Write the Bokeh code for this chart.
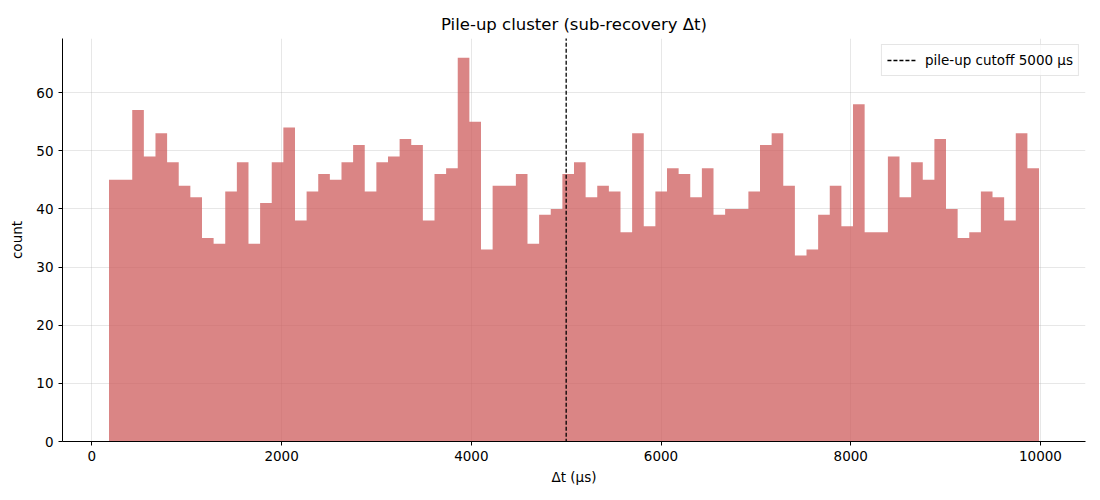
import numpy as np
from bokeh.plotting import figure
from bokeh.models import Range1d, FixedTicker, Legend, LegendItem
from bokeh.embed import file_html
from bokeh.resources import INLINE

counts = [45, 45, 57, 49, 53, 48, 44, 42, 35, 34,
          43, 48, 34, 41, 48, 54, 38, 43, 46, 45,
          48, 51, 43, 48, 49, 52, 51, 38, 46, 47,
          66, 55, 33, 44, 44, 46, 34, 39, 40, 46,
          48, 42, 44, 43, 36, 53, 37, 43, 47, 46,
          42, 47, 39, 40, 40, 43, 51, 53, 44, 32,
          33, 39, 44, 37, 58, 36, 36, 49, 42, 48,
          45, 52, 40, 35, 36, 43, 42, 38, 53, 47]
bin_start = 180.0
bin_end = 9985.0
cutoff = 5000
x_ticks = [0, 2000, 4000, 6000, 8000, 10000]
y_ticks = [0, 10, 20, 30, 40, 50, 60]

edges = np.linspace(bin_start, bin_end, len(counts) + 1)
step_y = list(counts) + [counts[-1]]

FONT = "DejaVu Sans"

p = figure(width=1092, height=488, output_backend="svg", toolbar_location=None,
           x_range=Range1d(-310, 10475), y_range=Range1d(0, 69.3),
           title="Pile-up cluster (sub-recovery Δt)",
           min_border_left=62, min_border_right=7, min_border_top=38, min_border_bottom=47)

p.varea_step(x=edges, y1=0, y2=step_y, step_mode="after",
             fill_color="indianred", fill_alpha=0.75)

vline = p.line(x=[cutoff, cutoff], y=[-1000, 1000], line_color="black",
               line_dash="4 2", line_width=1.3)

p.title.align = "center"
p.title.text_font = FONT
p.title.text_font_size = "16.5px"
p.title.text_font_style = "normal"
p.title.text_color = "black"

p.xaxis.axis_label = "Δt (µs)"
p.yaxis.axis_label = "count"
for ax in (p.xaxis, p.yaxis):
    ax.axis_label_text_font = FONT
    ax.axis_label_text_font_size = "13.5px"
    ax.axis_label_text_font_style = "normal"
    ax.major_label_text_font = FONT
    ax.major_label_text_font_size = "13.5px"
    ax.minor_tick_line_color = None
    ax.major_tick_in = 0
    ax.major_tick_out = 4
    ax.axis_line_color = "black"
    ax.major_tick_line_color = "black"
    ax.major_label_text_color = "black"
    ax.axis_label_text_color = "black"
p.xaxis.ticker = FixedTicker(ticks=x_ticks)
p.yaxis.ticker = FixedTicker(ticks=y_ticks)
p.xaxis.axis_label_standoff = 5
p.yaxis.axis_label_standoff = 8

p.xgrid.ticker = FixedTicker(ticks=x_ticks)
p.ygrid.ticker = FixedTicker(ticks=y_ticks)
p.grid.grid_line_color = "#b0b0b0"
p.grid.grid_line_alpha = 0.3
p.outline_line_color = None

legend = Legend(items=[LegendItem(label="pile-up cutoff 5000 µs", renderers=[vline])],
                location="top_right")
legend.label_text_font = FONT
legend.label_text_font_size = "13.5px"
legend.label_text_color = "black"
legend.border_line_color = "#cccccc"
legend.border_line_width = 1
legend.background_fill_alpha = 0.8
legend.margin = 6
legend.padding = 5
legend.spacing = 0
legend.glyph_width = 30
legend.label_standoff = 8
p.add_layout(legend)

open("out.html", "w").write(file_html(p, INLINE))
